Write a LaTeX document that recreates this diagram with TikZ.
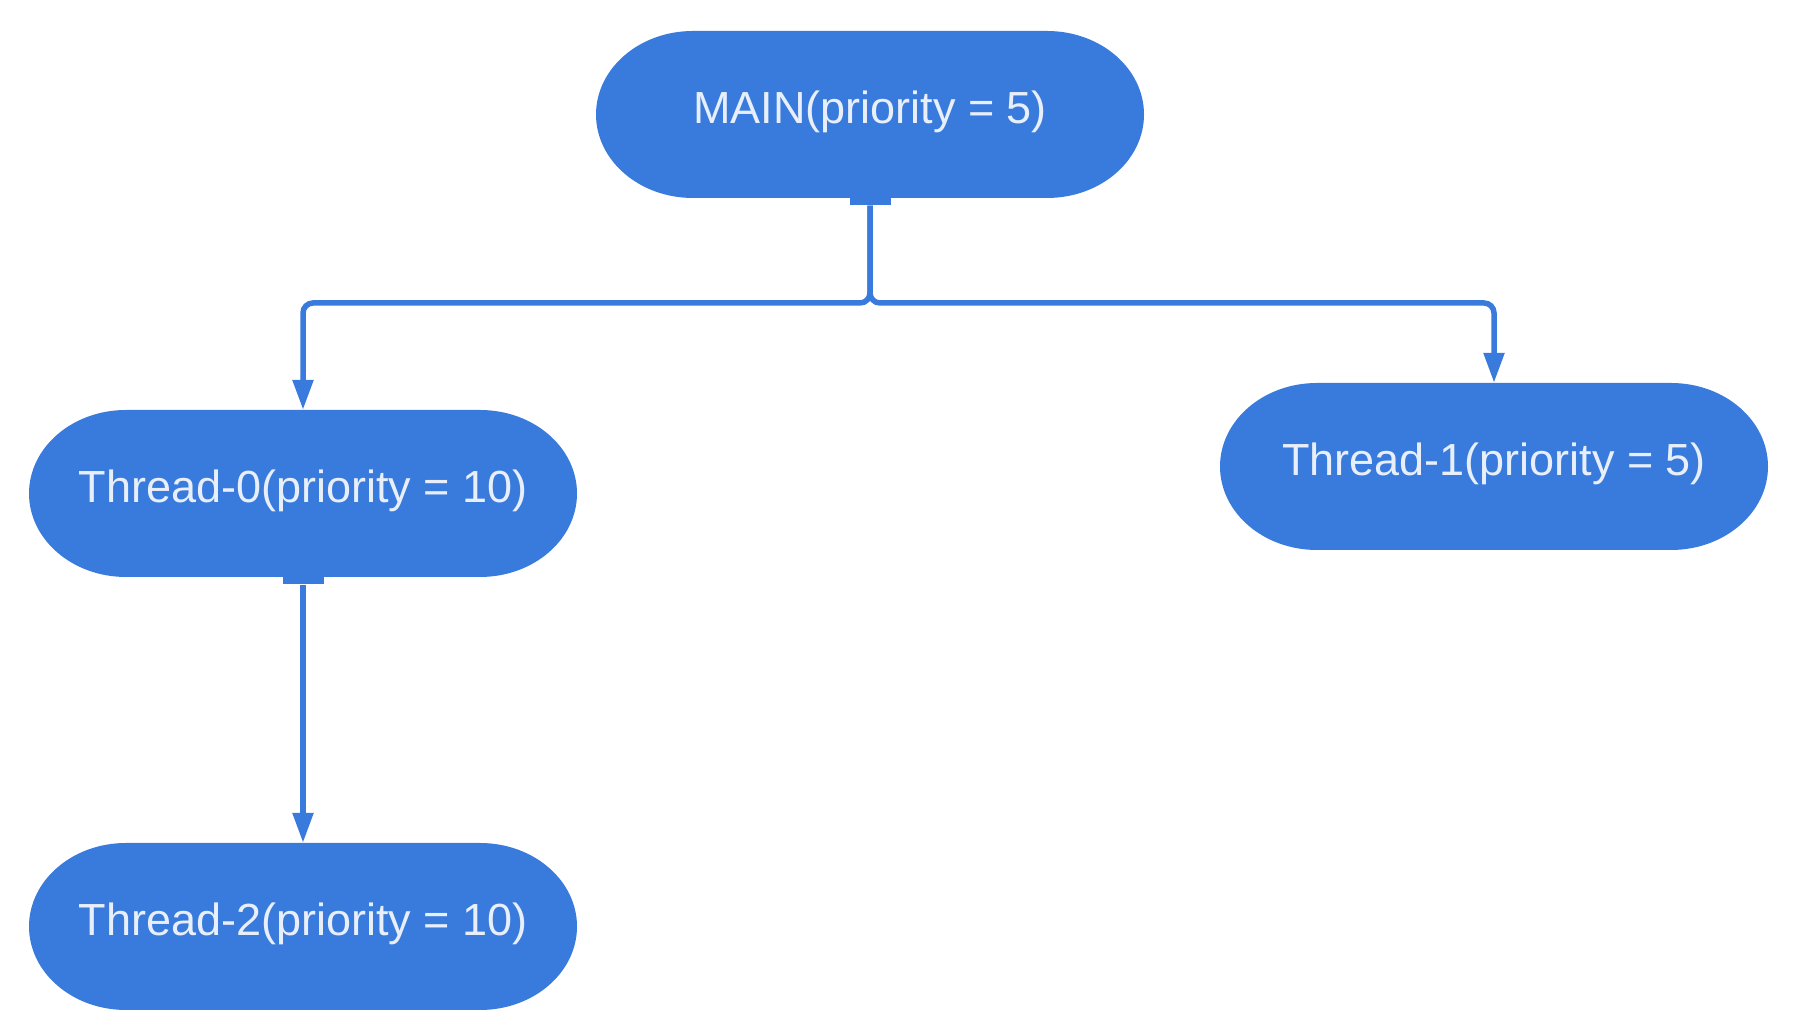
\documentclass[tikz,border=0pt]{standalone}
\usepackage{fontspec}
\setmainfont{Liberation Sans}
\usetikzlibrary{arrows.meta}
\definecolor{nodeblue}{HTML}{397BDC}
\definecolor{textwhite}{HTML}{E8EFFA}
\tikzset{
  threadnode/.style={rectangle, minimum width=548pt, minimum height=167pt, inner sep=0pt,
    text=textwhite, font=\fontsize{45}{54}\selectfont, text height=33pt, text depth=15pt,
    path picture={\fill[nodeblue] ([xshift=97pt]path picture bounding box.north west)
      -- ([xshift=-97pt]path picture bounding box.north east)
      arc[start angle=90,end angle=-90,x radius=97pt,y radius=83.5pt]
      -- ([xshift=97pt]path picture bounding box.south west)
      arc[start angle=270,end angle=90,x radius=97pt,y radius=83.5pt] -- cycle;}},
  link/.style={draw=nodeblue, line width=5.5pt, rounded corners=10pt,
    -{Triangle[length=30pt,width=20pt]}},
  tbar/.style={fill=nodeblue, minimum width=41pt, minimum height=7pt, inner sep=0pt, anchor=north}
}
\begin{document}
\begin{tikzpicture}[x=1pt,y=1pt]
\useasboundingbox (0,0) rectangle (1794,1016);
\node[threadnode] (m) at (870,901.5) {MAIN(priority = 5)};
\node[threadnode] (t0) at (303,522.5) {Thread-0(priority = 10)};
\node[threadnode] (t1) at (1494,549.5) {Thread-1(priority = 5)};
\node[threadnode] (t2) at (303,89.5) {Thread-2(priority = 10)};
\node[tbar] (tbm) at (m.south) {};
\node[tbar] (tb0) at (t0.south) {};
\coordinate (j) at (870,713);
\draw[link] (tbm.south) -- (j) -| (t0.north);
\draw[link] (tbm.south) -- (j) -| (t1.north);
\draw[link] (tb0.south) -- (t2.north);
\end{tikzpicture}
\end{document}
